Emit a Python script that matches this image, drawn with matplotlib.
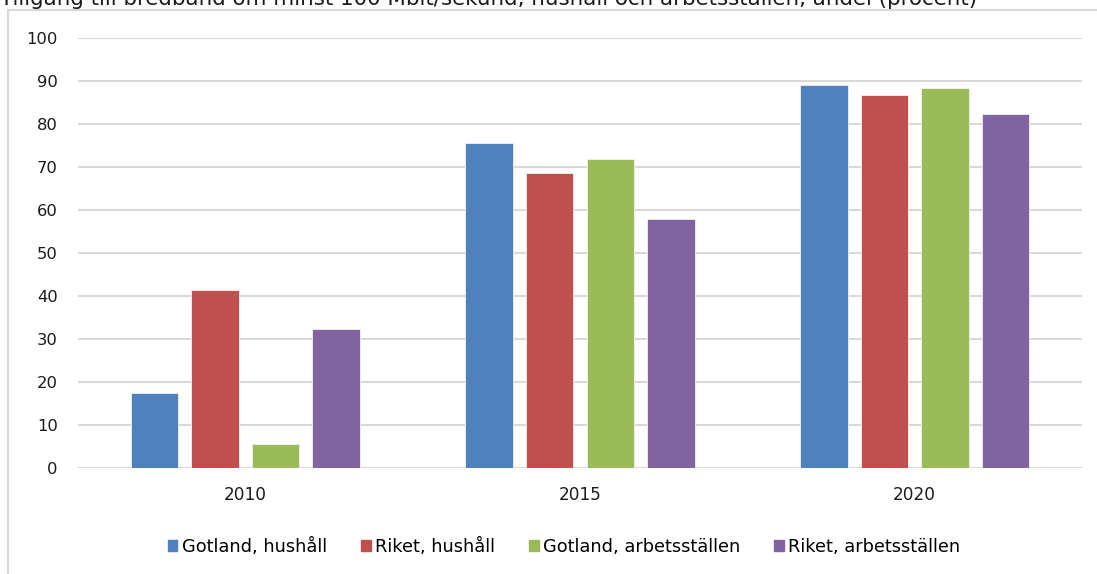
import matplotlib
matplotlib.use("Agg")
import matplotlib.pyplot as plt
from matplotlib.patches import Rectangle
from matplotlib.lines import Line2D
import numpy as np

title = "Tillgång till bredband om minst 100 Mbit/sekund, hushåll och arbetsställen, andel (procent)"
years = ["2010", "2015", "2020"]
series_names = ["Gotland, hushåll", "Riket, hushåll", "Gotland, arbetsställen", "Riket, arbetsställen"]
gotland_hushall = [17.4, 75.5, 89.1]
riket_hushall = [41.4, 68.5, 86.7]
gotland_arbete = [5.5, 71.8, 88.4]
riket_arbete = [32.3, 57.9, 82.3]
yticks = [0, 10, 20, 30, 40, 50, 60, 70, 80, 90, 100]

colors = ["#4F81BD", "#C0504D", "#9BBB59", "#8064A2"]
values = [gotland_hushall, riket_hushall, gotland_arbete, riket_arbete]

plt.rcParams['font.family'] = ['DejaVu Sans']
W, H = 1097, 574
fig = plt.figure(figsize=(W / 100, H / 100), dpi=100)

ax = fig.add_axes([78 / W, 1 - 468 / H, (1082 - 78) / W, (468 - 38) / H])

x = np.arange(len(years))
step = 0.181
bw = 0.142
for i, (vals, c, name) in enumerate(zip(values, colors, series_names)):
    ax.bar(x + (i - 1.5) * step, vals, width=bw, color=c, edgecolor="#F2F2F2",
           linewidth=0.6, label=name, zorder=3)

ax.set_xlim(-0.5, len(years) - 0.5)
ax.set_ylim(0, 100)
ax.set_yticks(yticks)
ax.set_yticklabels([str(t) for t in yticks], fontsize=11.8, color="#1a1a1a")
ax.set_xticks(x)
ax.set_xticklabels(years, fontsize=12.2, color="#1a1a1a")
ax.tick_params(axis="both", length=0)
ax.tick_params(axis="y", pad=14.5)
ax.tick_params(axis="x", pad=13)
ax.grid(axis="y", color="#D9D9D9", linewidth=1.5, zorder=0)
for s in ax.spines.values():
    s.set_visible(False)

# chart border (left and top)
fig.add_artist(Line2D([8 / W, 8 / W], [0, 1 - 10 / H], transform=fig.transFigure,
                      color="#D9D9D9", linewidth=1.5))
fig.add_artist(Line2D([8 / W, 1], [1 - 10 / H, 1 - 10 / H], transform=fig.transFigure,
                      color="#D9D9D9", linewidth=1.5))

fig.text(0 / W, 1 - 5 / H, title, fontsize=15.4, ha="left", va="baseline", color="#1a1a1a")

handles = [Rectangle((0, 0), 1, 1, color=c) for c in colors]
fig.legend(handles, series_names, loc="center", bbox_to_anchor=(564 / W, 1 - 547 / H),
           ncol=4, frameon=False, fontsize=12.8, handlelength=0.55, handleheight=0.55,
           handletextpad=0.25, columnspacing=1.9)

fig.savefig("out.png", dpi=100)
